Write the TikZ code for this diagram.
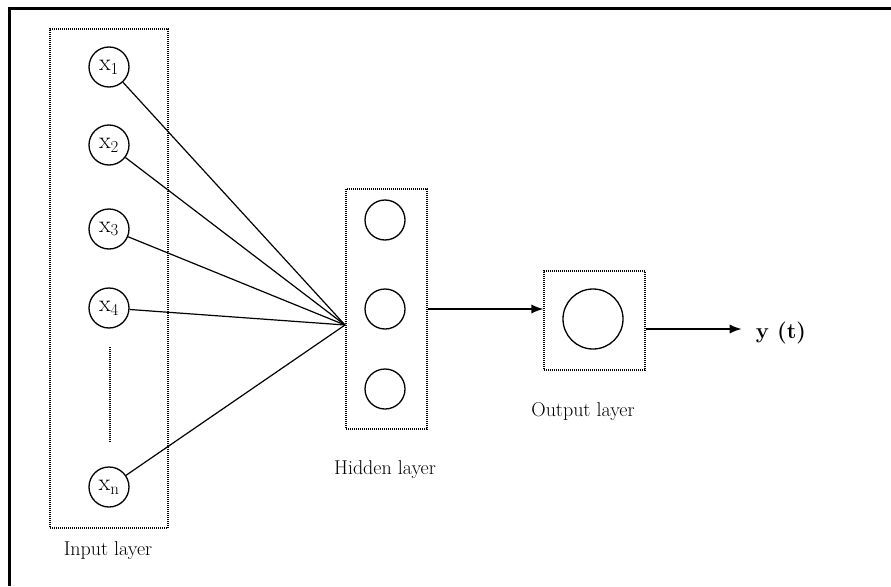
\documentclass[tikz,border=0pt]{standalone}
\usepackage{fontspec}
\usetikzlibrary{arrows.meta,positioning}
\tikzset{
  layerbox/.style={draw, line width=1.1pt, dash pattern=on 1pt off 1pt, inner sep=0pt},
  neuron/.style={draw, circle, line width=1.3pt, minimum size=40pt, inner sep=0pt, font=\fontsize{24}{26}\selectfont},
  link/.style={line width=1.2pt},
  flow/.style={line width=1.4pt, -{Latex[length=12pt,width=9pt]}},
  caption/.style={font=\fontsize{20}{23}\selectfont}
}
\begin{document}
\begin{tikzpicture}[x=1pt,y=-1pt]
  \useasboundingbox (0,0) rectangle (891,586);
  % Frame
  \draw[line width=3pt] (9,586) -- (9,9) -- (891,9);
  % Layer boxes
  \node[layerbox, minimum width=118pt, minimum height=499pt] (inbox) at (109,278.5) {};
  \node[layerbox, minimum width=81pt, minimum height=240pt] (hidbox) at (386.5,309) {};
  \node[layerbox, minimum width=101pt, minimum height=99pt] (outbox) at (594.5,320.5) {};
  % Input neurons
  \node[neuron] (x1) at (109,67)  {x\textsubscript{1}};
  \node[neuron] (x2) at (109,145) {x\textsubscript{2}};
  \node[neuron] (x3) at (109,229) {x\textsubscript{3}};
  \node[neuron] (x4) at (109,308) {x\textsubscript{4}};
  \node[neuron] (xn) at (109,487) {x\textsubscript{n}};
  \draw[link, dash pattern=on 1pt off 1pt] (110,347) -- (110,443);
  % Hidden neurons
  \node[neuron] (h1) at (385,220) {};
  \node[neuron] (h2) at (385,309) {};
  \node[neuron] (h3) at (385,389) {};
  % Output neuron
  \node[neuron, minimum size=60pt] (o) at (593,319) {};
  % Connections
  \coordinate (hub) at (345,325);
  \foreach \i in {x1,x2,x3,x4,xn} {
    \draw[link] (\i) -- (hub);
  }
  \draw[flow] (hidbox.east |- h2) -- (outbox.west |- h2);
  \node[font=\fontsize{22}{24}\selectfont\bfseries, inner sep=2pt] (yt) at (781,333) {y (t)};
  \draw[flow, shorten >=12pt] (outbox.east |- 0,329) -- (yt.west |- 0,329);
  % Labels
  \node[caption] (inlab) at (108,551) {Input layer};
  \node[caption] (hidlab) at (385,470) {Hidden layer};
  \node[caption] (outlab) at (583,412) {Output layer};
\end{tikzpicture}
\end{document}
